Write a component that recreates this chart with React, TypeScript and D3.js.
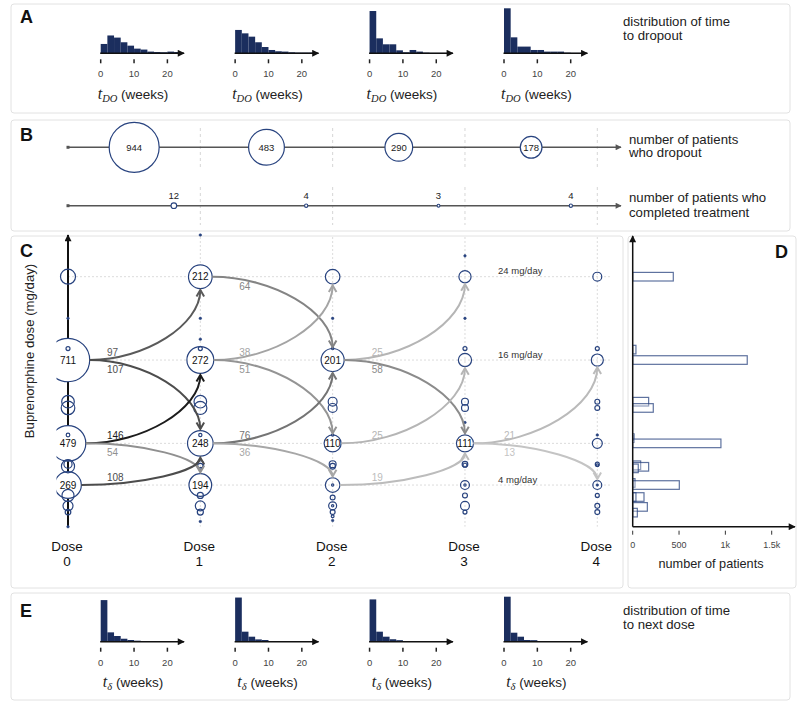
import React from "react";
import * as d3 from "d3";

const FONT = "'Liberation Sans', Arial, Helvetica, sans-serif";
const SERIF = "'Liberation Serif', 'DejaVu Serif', serif";
const NAVY = "#28437f";
const HIST_FILL = "#1b2e5e";

// ---------- Panel A / E: histograms (% of patients per 2-week bin) ----------
const weekBins = [0, 2, 4, 6, 8, 10, 12, 14, 16, 18, 20, 22];
const histTicks = [0, 10, 20];

const dropoutHist1 = [11, 21, 18.5, 13, 9, 5.5, 4.4, 2, 1.5, 1.2, 2, 1.5];
const dropoutHist2 = [27.5, 23.5, 19.6, 13, 7.4, 3.9, 2.4, 2, 1.2, 0.8, 0.8, 0.8];
const dropoutHist3 = [49.8, 17.6, 10.6, 10.6, 3.5, 1.2, 3.9, 2, 0.8, 0.5, 0.5, 0.5];
const dropoutHist4 = [53, 18.8, 7.9, 7.9, 3.9, 3.9, 2, 2, 2, 0.8, 0.5, 0.5];

const nextDoseHist1 = [49, 11, 6.7, 3.5, 2, 1.2, 0.4, 0.3, 0.2, 0.2, 0.1, 0.1];
const nextDoseHist2 = [52, 11.8, 5.9, 2.7, 2, 0.8, 0.6, 0.4, 0.3, 0.2, 0.2, 0.1];
const nextDoseHist3 = [49.8, 11.8, 5.9, 2.9, 1.8, 0.8, 0.5, 0.4, 0.3, 0.2, 0.1, 0.1];
const nextDoseHist4 = [53, 10.6, 5.9, 2, 1.8, 0.8, 0.5, 0.3, 0.3, 0.2, 0.1, 0.1];

const dropoutHists = [dropoutHist1, dropoutHist2, dropoutHist3, dropoutHist4];
const nextDoseHists = [nextDoseHist1, nextDoseHist2, nextDoseHist3, nextDoseHist4];

// ---------- Panel B ----------
const dropoutCounts = [944, 483, 290, 178];
const completedCounts = [12, 4, 3, 4];

// ---------- Panel C: nodes per dose step [mg/day, patients] ----------
const doseSteps = [0, 1, 2, 3, 4];
const nodesDose0: [number, number][] = [
  [24, 85], [20, 1], [17.1, 6], [16, 711], [12, 60], [11.4, 70], [8.8, 5], [8, 479],
  [6, 25], [5.8, 65], [4, 269], [3, 55], [2, 38], [1.4, 12], [0, 1],
];
const nodesDose1: [number, number][] = [
  [28, 1], [24, 212], [20, 1], [18, 1], [17.1, 6], [16, 272], [12, 60], [11.4, 65],
  [8.8, 4], [8, 248], [6, 18], [5.8, 12], [4, 194], [3, 14], [2, 38], [1.4, 14], [0.5, 1],
];
const nodesDose2: [number, number][] = [
  [24, 80], [20, 1], [17.1, 2], [16, 201], [12, 30], [11.4, 30], [8.8, 2], [8, 110],
  [6, 18], [5.8, 12], [4, 80], [4, 2], [2.8, 9], [2, 24], [2, 2], [1.4, 9], [1, 3], [0.6, 1],
];
const nodesDose3: [number, number][] = [
  [26, 1], [24, 56], [20, 1], [17.1, 6], [16, 66], [12, 18], [11.4, 18], [10, 1], [8, 111],
  [6, 12], [5.9, 6], [4, 30], [4, 2], [3, 9], [2, 30], [1.4, 6],
];
const nodesDose4: [number, number][] = [
  [24, 30], [17.1, 6], [16, 55], [12, 9], [11.4, 9], [8.8, 1], [8, 38],
  [6, 6], [5.9, 3], [4, 30], [4, 1], [3, 6], [2, 9], [1.4, 9],
];
const nodesByStep = [nodesDose0, nodesDose1, nodesDose2, nodesDose3, nodesDose4];

// transitions [from step, from mg/day, to mg/day, patients]
const flows: [number, number, number, number][] = [
  [0, 16, 24, 97], [0, 16, 8, 107], [0, 8, 16, 146], [0, 8, 4, 54], [0, 4, 8, 108],
  [1, 24, 16, 64], [1, 16, 24, 38], [1, 16, 8, 51], [1, 8, 16, 76], [1, 8, 4, 36],
  [2, 16, 24, 25], [2, 16, 8, 58], [2, 8, 16, 25], [2, 4, 8, 19],
  [3, 8, 16, 21], [3, 8, 4, 13],
];

const gridDoses = [24, 16, 8, 4];
const doseLabels = [24, 16, 4];

// ---------- Panel D: total patients per dose level ----------
const dMg = [24, 17, 16, 12, 11.4, 8.5, 8, 5.9, 5.75, 5.6, 4.2, 4, 2.85, 2.85, 1.9, 1.35];
const dN = [438, 35, 1236, 172, 222, 15, 952, 86, 172, 60, 25, 503, 122, 35, 158, 50];
const dTicks = [0, 500, 1000, 1500];

export default function App() {
  const xDose = d3.scaleLinear().domain([0, 4]).range([68, 597.3]);
  const yMg = d3.scaleLinear().domain([0, 24]).range([526.7, 276.7]);
  const rN = d3.scaleSqrt().domain([0, 944]).range([0, 25]);
  const histX0 = d3.scaleLinear().domain([0, 3]).range([100.7, 504]);
  const wk = d3.scaleLinear().domain([0, 20]).range([0, 66.7]);
  const hPct = d3.scaleLinear().domain([0, 53]).range([0, 45]);
  const xN = d3.scaleLinear().domain([0, 1500]).range([632.7, 771.7]);
  const flowColor = d3.scaleLinear<string>().domain([13, 146]).range(["#c4c4c4", "#1c1c1c"]);

  const box = (x: number, y: number, w: number, h: number) => (
    <rect x={x} y={y} width={w} height={h} rx={3} fill="#fff" stroke="#e2e2e2" strokeWidth={1} />
  );

  const histogram = (values: number[], i: number, axisY: number, sub: string, key: string) => {
    const x0 = histX0(i);
    const bw = wk(2) - wk(0);
    return (
      <g key={key}>
        {values.map((v, j) => (
          <rect key={j} x={x0 + wk(weekBins[j])} y={axisY - hPct(v)} width={bw} height={hPct(v)} fill={HIST_FILL} />
        ))}
        <line x1={x0 - 0.5} x2={x0 + wk(25)} y1={axisY} y2={axisY} stroke="#111" strokeWidth={1.5} markerEnd="url(#arrK)" />
        {histTicks.map((t) => (
          <g key={t}>
            <line x1={x0 + wk(t)} x2={x0 + wk(t)} y1={axisY + 6} y2={axisY + 10} stroke="#222" strokeWidth={1.5} />
            <text x={x0 + wk(t)} y={axisY + 24} textAnchor="middle" fontSize={9.5} fill="#444">{t}</text>
          </g>
        ))}
        <text x={x0 + wk(10) - 1} y={axisY + 45.5} textAnchor="middle" fontSize={13.5} fill="#222">
          <tspan fontFamily={SERIF} fontStyle="italic" fontSize={16}>t</tspan>
          <tspan fontFamily={SERIF} fontStyle="italic" fontSize={10.5} dy={3}>{sub}</tspan>
          <tspan dy={-3}> (weeks)</tspan>
        </text>
      </g>
    );
  };

  const nodeN = (step: number, mg: number) => {
    const list = nodesByStep[step].filter((d) => d[0] === mg);
    return d3.max(list, (d) => d[1]) ?? 1;
  };

  const allNodes = nodesByStep
    .flatMap((list, step) => list.map(([mg, n]) => ({ step, mg, n })))
    .sort((a, b) => b.n - a.n);

  const completedPos = completedCounts.map((_, i) => xDose(i + 0.8));
  const dropoutPos = dropoutCounts.map((_, i) => (xDose(i) + xDose(i + 1)) / 2);

  return (
    <svg width={800} height={706} style={{ position: "absolute", left: 0, top: 0, display: "block" }} fontFamily={FONT}>
      <defs>
        <marker id="arrK" viewBox="0 0 10 10" refX={9} refY={5} markerWidth={9} markerHeight={7} orient="auto" markerUnits="userSpaceOnUse">
          <path d="M0,0 L10,5 L0,10 z" fill="#111" />
        </marker>
        <marker id="arrG" viewBox="0 0 10 10" refX={9} refY={5} markerWidth={9} markerHeight={6} orient="auto" markerUnits="userSpaceOnUse">
          <path d="M0,0 L10,5 L0,10 z" fill="#555" />
        </marker>
        <clipPath id="cClip">
          <rect x={56.5} y={230} width={570} height={360} />
        </clipPath>
      </defs>

      {/* panel boxes */}
      {box(11, 4, 779, 109)}
      {box(11, 120, 779, 111)}
      {box(11, 236, 612, 352)}
      {box(628, 236, 168, 352)}
      {box(11, 593, 779, 107)}

      {/* Panel A */}
      <text x={20} y={22.5} fontSize={18} fontWeight="bold" fill="#111">A</text>
      {dropoutHists.map((vals, i) => histogram(vals, i, 53.3, "DO", "a" + i))}
      <text x={623} y={25.5} fontSize={13.2} fill="#222">distribution of time</text>
      <text x={623} y={39.5} fontSize={13.2} fill="#222">to dropout</text>

      {/* Panel B */}
      <text x={20} y={140.5} fontSize={18} fontWeight="bold" fill="#111">B</text>
      {doseSteps.slice(1).map((s) => (
        <g key={s}>
          <line x1={xDose(s)} x2={xDose(s)} y1={128} y2={167} stroke="#d6d6d6" strokeDasharray="3,3" />
          <line x1={xDose(s)} x2={xDose(s)} y1={187} y2={225} stroke="#d6d6d6" strokeDasharray="3,3" />
        </g>
      ))}
      <line x1={68} x2={621} y1={147.3} y2={147.3} stroke="#555" strokeWidth={1.6} markerEnd="url(#arrG)" />
      <rect x={66.5} y={145.8} width={3} height={3} fill="#555" />
      {dropoutCounts.map((n, i) => (
        <g key={i}>
          <circle cx={dropoutPos[i]} cy={147.3} r={rN(n)} fill="#fff" stroke={NAVY} strokeWidth={1.2} />
          <text x={dropoutPos[i]} y={150.8} textAnchor="middle" fontSize={9.5} fill="#222">{n}</text>
        </g>
      ))}
      <line x1={68} x2={621} y1={205.7} y2={205.7} stroke="#555" strokeWidth={1.6} markerEnd="url(#arrG)" />
      <rect x={66.5} y={204.2} width={3} height={3} fill="#555" />
      {completedCounts.map((n, i) => (
        <g key={i}>
          <circle cx={completedPos[i]} cy={205.7} r={rN(n)} fill="#fff" stroke={NAVY} strokeWidth={1.1} />
          <text x={completedPos[i]} y={199} textAnchor="middle" fontSize={9.5} fill="#222">{n}</text>
        </g>
      ))}
      <text x={629} y={143.5} fontSize={13.2} fill="#222">number of patients</text>
      <text x={629} y={157} fontSize={13.2} fill="#222">who dropout</text>
      <text x={629} y={202} fontSize={13.2} fill="#222">number of patients who</text>
      <text x={629} y={216.5} fontSize={13.2} fill="#222">completed treatment</text>

      {/* Panel C */}
      <text x={20} y={257} fontSize={18} fontWeight="bold" fill="#111">C</text>
      {gridDoses.map((mg) => (
        <line key={mg} x1={68} x2={610} y1={yMg(mg)} y2={yMg(mg)} stroke="#dcdcdc" strokeDasharray="2,2" />
      ))}
      {doseSteps.slice(1).map((s) => (
        <line key={s} x1={xDose(s)} x2={xDose(s)} y1={237} y2={yMg(0)} stroke="#dcdcdc" strokeDasharray="2,2" />
      ))}
      <line x1={68} x2={68} y1={yMg(0)} y2={235} stroke="#111" strokeWidth={2} markerEnd="url(#arrK)" />
      <text transform={`translate(34,${351}) rotate(-90)`} textAnchor="middle" fontSize={13.2} fill="#222">
        Buprenorphine dose (mg/day)
      </text>
      {doseLabels.map((mg) => (
        <text key={mg} x={xDose(3.25)} y={yMg(mg) - 2.5} fontSize={9.5} fill="#333">{mg} mg/day</text>
      ))}
      <g clipPath="url(#cClip)">
        {allNodes.map((d, i) => {
          const r = rN(d.n);
          const tiny = d.n <= 1;
          return (
            <circle
              key={i}
              cx={xDose(d.step)}
              cy={yMg(d.mg)}
              r={tiny ? 1.3 : r}
              fill={tiny ? NAVY : d.n >= 100 ? "#fff" : "none"}
              stroke={NAVY}
              strokeWidth={tiny ? 0.5 : 1.2}
            />
          );
        })}
      </g>
      {flows.map(([step, fromMg, toMg, n], i) => {
        const sx = xDose(step);
        const tx = xDose(step + 1);
        const sy = yMg(fromMg);
        const ty = yMg(toMg);
        const rs = rN(nodeN(step, fromMg));
        const rt = rN(nodeN(step + 1, toMg));
        const dir = ty > sy ? 1 : -1;
        const x0 = sx + rs;
        const ey = ty - dir * (rt + 1.5);
        const p = d3.path();
        p.moveTo(x0, sy);
        p.bezierCurveTo(x0 + (tx - x0) / 2, sy, tx, sy + (ey - sy) / 2, tx, ey);
        const head = d3.path();
        head.moveTo(tx - 3.8, ey - dir * 6.5);
        head.lineTo(tx, ey);
        head.lineTo(tx + 3.8, ey - dir * 6.5);
        const c = flowColor(n);
        return (
          <g key={i}>
            <path d={p.toString()} fill="none" stroke={c} strokeWidth={2} />
            <path d={head.toString()} fill="none" stroke={c} strokeWidth={2} strokeLinejoin="miter" />
            <text x={sx + 39} y={dir < 0 ? sy - 4.5 : sy + 13} fontSize={10} fill={c}>{n}</text>
          </g>
        );
      })}
      {allNodes.filter((d) => d.n >= 100).map((d, i) => (
        <text key={i} x={xDose(d.step)} y={yMg(d.mg) + 3.5} textAnchor="middle" fontSize={10} fill="#111">{d.n}</text>
      ))}
      {doseSteps.map((s) => (
        <text key={s} x={xDose(s) - 1} textAnchor="middle" fontSize={13.5} fill="#111">
          <tspan x={xDose(s) - 1} y={551}>Dose</tspan>
          <tspan x={xDose(s) - 1} y={565.5}>{s}</tspan>
        </text>
      ))}

      {/* Panel D */}
      <text x={788} y={258} textAnchor="end" fontSize={18} fontWeight="bold" fill="#111">D</text>
      {dMg.map((mg, i) => (
        <rect
          key={i}
          x={xN(0)}
          y={yMg(mg) - 4.3}
          width={xN(dN[i]) - xN(0)}
          height={8.6}
          fill="#fff"
          fillOpacity={0.3}
          stroke={NAVY}
          strokeOpacity={0.75}
          strokeWidth={1.2}
        />
      ))}
      <line x1={xN(0)} x2={xN(0)} y1={yMg(0)} y2={236} stroke="#111" strokeWidth={1.5} markerEnd="url(#arrK)" />
      <line x1={xN(0)} x2={795} y1={yMg(0)} y2={yMg(0)} stroke="#111" strokeWidth={1.5} markerEnd="url(#arrK)" />
      {dTicks.map((t) => (
        <g key={t}>
          <line x1={xN(t)} x2={xN(t)} y1={yMg(0) + 4} y2={yMg(0) + 8} stroke="#333" strokeWidth={1} />
          <text x={xN(t)} y={548} textAnchor="middle" fontSize={9} fill="#444">{d3.format("~s")(t)}</text>
        </g>
      ))}
      <text x={711} y={567.5} textAnchor="middle" fontSize={12.7} fill="#222">number of patients</text>

      {/* Panel E */}
      <text x={20} y={617} fontSize={18} fontWeight="bold" fill="#111">E</text>
      {nextDoseHists.map((vals, i) => histogram(vals, i, 641.7, "δ", "e" + i))}
      <text x={623} y={614.5} fontSize={13.2} fill="#222">distribution of time</text>
      <text x={623} y={628.5} fontSize={13.2} fill="#222">to next dose</text>
    </svg>
  );
}
